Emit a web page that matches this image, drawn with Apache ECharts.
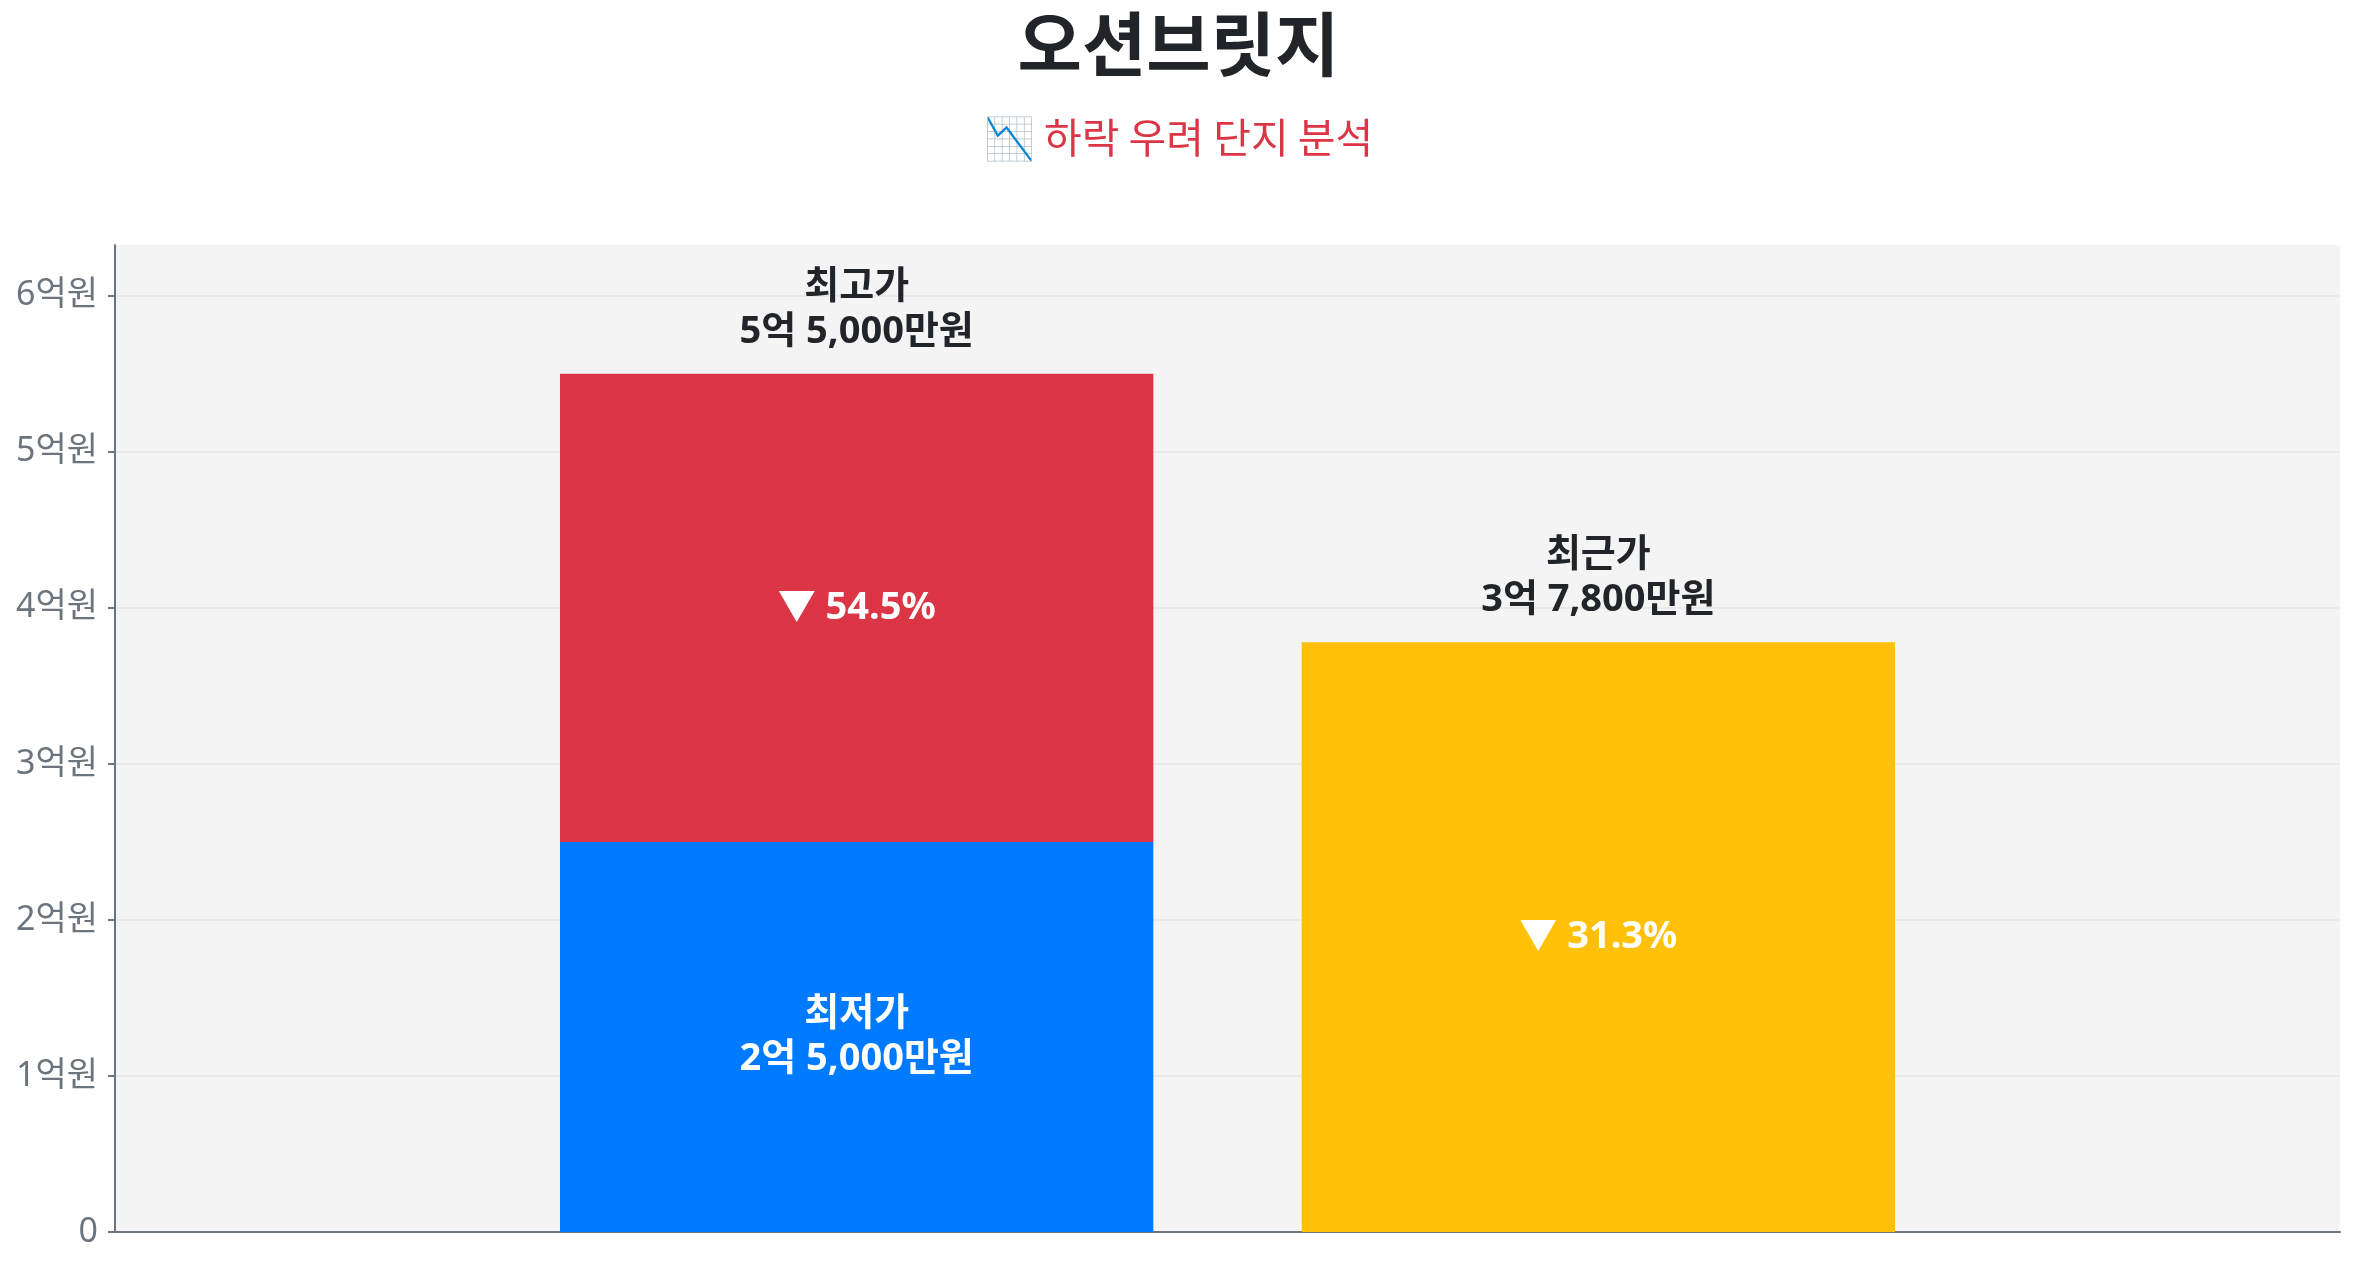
<!DOCTYPE html>
<html>
<head>
<meta charset="utf-8">
<script src="https://cdn.jsdelivr.net/npm/echarts@6/dist/echarts.min.js"></script>
<style>
html,body{margin:0;padding:0;background:#fff;}
#chart{width:2357px;height:1268px;}
</style>
</head>
<body>
<div id="chart"></div>
<script>
// values in 만원
const categories = ['오션브릿지'];
const lowPrice = [25000];       // 최저가
const highPrice = [55000];      // 최고가
const recentPrice = [37800];    // 최근가
const dropFromHigh = ['54.5%']; // 최저가 하락률
const dropRecent = ['31.3%'];   // 최근가 하락률
const yTicks = [0, 10000, 20000, 30000, 40000, 50000, 60000];

const FONT = "'Noto Sans', 'Noto Sans CJK KR', sans-serif";

function fmtPrice(v) {
  const eok = Math.floor(v / 10000);
  const man = v % 10000;
  return eok + '억 ' + man.toLocaleString('en-US') + '만원';
}

const chart = echarts.init(document.getElementById('chart'));
chart.setOption({
  animation: false,
  title: {
    text: '오션브릿지',
    subtext: '📉 하락 우려 단지 분석',
    left: 'center',
    top: 4,
    itemGap: 38,
    textStyle: { fontFamily: "'Noto Sans CJK KR', sans-serif", fontSize: 70, fontWeight: 'bold', color: '#212529' },
    subtextStyle: { fontFamily: "'Noto Sans CJK KR', sans-serif", fontSize: 41, color: '#dc3545' }
  },
  grid: {
    left: 115, right: 17, top: 245, bottom: 36,
    show: true, backgroundColor: '#f4f4f4', borderWidth: 0
  },
  xAxis: {
    type: 'category',
    data: categories,
    axisLine: { lineStyle: { color: '#6c757d', width: 2 } },
    axisTick: { show: false },
    axisLabel: { show: false }
  },
  yAxis: {
    type: 'value',
    min: 0,
    max: function (v) { return v.max * 1.15; },
    interval: 10000,
    axisLine: { show: true, lineStyle: { color: '#6c757d', width: 2 } },
    axisTick: { show: true, length: 7, customValues: yTicks, lineStyle: { color: '#6c757d', width: 2 } },
    splitLine: { show: true, lineStyle: { color: '#e6e6e6', width: 1.5 } },
    axisLabel: {
      customValues: yTicks,
      margin: 17,
      fontFamily: FONT, fontSize: 34, color: '#6c757d',
      formatter: function (v) { return v === 0 ? '0' : (v / 10000) + '억원'; }
    }
  },
  series: [
    {
      name: '최저가', type: 'bar', stack: 'a',
      barCategoryGap: '40%', barGap: '25%',
      data: lowPrice,
      itemStyle: { color: '#007bff' },
      label: {
        show: true, position: 'inside', color: '#fff', fontFamily: FONT, fontSize: 38, fontWeight: 'bold', lineHeight: 45,
        formatter: function (p) { return '최저가\n' + fmtPrice(p.value); }
      }
    },
    {
      name: '하락폭', type: 'bar', stack: 'a',
      data: highPrice.map((h, i) => h - lowPrice[i]),
      itemStyle: { color: '#dc3545' },
      label: {
        show: true, position: 'inside', color: '#fff', fontFamily: FONT, fontSize: 38, fontWeight: 'bold',
        formatter: function (p) { return '▼ ' + dropFromHigh[p.dataIndex]; }
      }
    },
    {
      name: '최고가', type: 'bar', stack: 'a',
      data: highPrice.map(() => 0),
      label: {
        show: true, position: 'top', distance: 19, color: '#212529', fontFamily: FONT, fontSize: 38, fontWeight: 'bold', lineHeight: 45,
        formatter: function (p) { return '최고가\n' + fmtPrice(highPrice[p.dataIndex]); }
      }
    },
    {
      name: '최근가', type: 'bar', stack: 'b',
      data: recentPrice,
      itemStyle: { color: '#ffc107' },
      label: {
        show: true, position: 'inside', color: '#fff', fontFamily: FONT, fontSize: 38, fontWeight: 'bold',
        formatter: function (p) { return '▼ ' + dropRecent[p.dataIndex]; }
      }
    },
    {
      name: '최근가라벨', type: 'bar', stack: 'b',
      data: recentPrice.map(() => 0),
      label: {
        show: true, position: 'top', distance: 19, color: '#212529', fontFamily: FONT, fontSize: 38, fontWeight: 'bold', lineHeight: 45,
        formatter: function (p) { return '최근가\n' + fmtPrice(recentPrice[p.dataIndex]); }
      }
    }
  ]
});
</script>
</body>
</html>
